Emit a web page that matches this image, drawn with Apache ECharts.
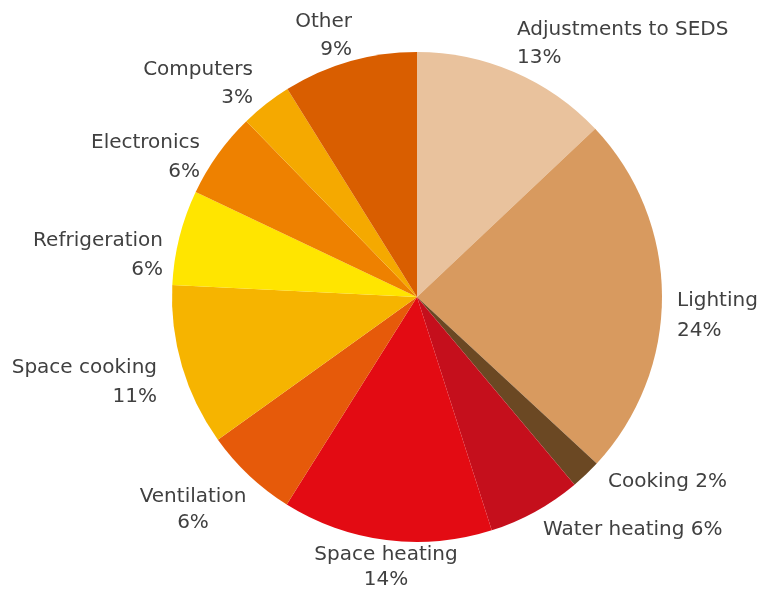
<!DOCTYPE html>
<html>
<head>
<meta charset="utf-8">
<script src="https://cdn.jsdelivr.net/npm/echarts@6/dist/echarts.min.js"></script>
<style>html,body{margin:0;padding:0;background:#fff}#c{width:761px;height:598px}</style>
</head>
<body>
<div id="c"></div>
<script>
var categories = ['Adjustments to SEDS','Lighting','Cooking','Water heating','Space heating','Ventilation','Space cooking','Refrigeration','Electronics','Computers','Other'];
var shares = [13.0, 24.0, 2.0, 6.2, 13.9, 6.2, 10.7, 6.3, 5.7, 3.4, 8.9];
var sliceColors = ['#E9C29D','#D89A5F','#6B4823','#C50F1C','#E30B13','#E65A0A','#F6B400','#FFE500','#EE8100','#F5A900','#D95E00'];
// label layout: [x, y (block centre), align, single-line, line height]
var labelPos = [
  [517, 44, 'left', false, 28],
  [677, 316, 'left', false, 30],
  [608, 482, 'left', true, 28],
  [543, 530, 'left', true, 28],
  [386, 567, 'center', false, 25],
  [193, 510, 'center', false, 26],
  [157, 382, 'right', false, 29],
  [163, 255, 'right', false, 29],
  [200, 157, 'right', false, 29],
  [253, 84, 'right', false, 28],
  [352, 36, 'right', false, 28]
];
var chart = echarts.init(document.getElementById('c'), null, {renderer:'canvas'});
chart.setOption({
  animation: false,
  series: [{
    type: 'pie',
    center: [417, 297],
    radius: [0, 245],
    startAngle: 90,
    clockwise: true,
    avoidLabelOverlap: false,
    data: categories.map(function(n,i){
      return {name:n, value:shares[i], itemStyle:{color:sliceColors[i]}, label:{lineHeight: labelPos[i][4]}};
    }),
    itemStyle: {borderWidth: 0},
    label: {
      show: true,
      position: 'outside',
      fontFamily: 'DejaVu Sans',
      fontSize: 20,
      lineHeight: 28,
      color: '#404040',
      formatter: function(p){
        var pct = Math.round(p.value) + '%';
        return labelPos[p.dataIndex][3] ? p.name + ' ' + pct : p.name + '\n' + pct;
      }
    },
    labelLine: {show: false},
    labelLayout: function(p){
      var lp = labelPos[p.dataIndex];
      return {x: lp[0], y: lp[1], align: lp[2], verticalAlign: 'middle'};
    }
  }]
});
</script>
</body>
</html>
